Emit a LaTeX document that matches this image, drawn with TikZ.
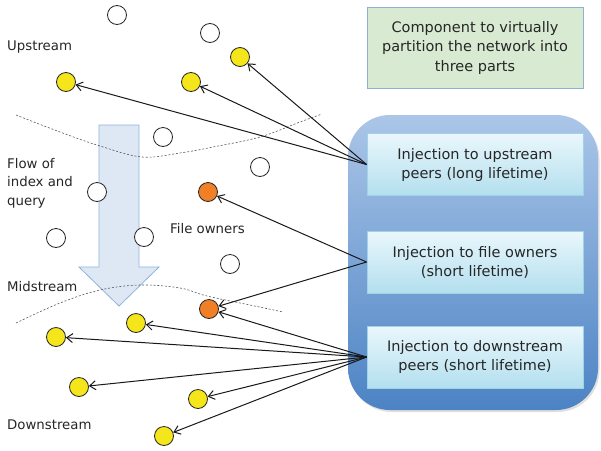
\documentclass[tikz,border=0pt]{standalone}
\usepackage{fontspec}
\setmainfont{DejaVu Sans}
\usetikzlibrary{arrows.meta,shadows}
\definecolor{txt}{HTML}{262626}
\definecolor{grfill}{HTML}{D8EAD2}
\definecolor{grline}{HTML}{8FB0D2}
\definecolor{bigtop}{HTML}{ABC6E8}
\definecolor{bigbot}{HTML}{4C83C4}
\definecolor{boxtop}{HTML}{EAF7FC}
\definecolor{boxbot}{HTML}{B3DFEE}
\definecolor{boxline}{HTML}{9FD3E6}
\definecolor{peeryel}{HTML}{F4E61A}
\definecolor{peerora}{HTML}{F07F26}
\definecolor{arrfill}{HTML}{DEE8F4}
\definecolor{arrline}{HTML}{8DB3DD}
\tikzset{
  peer/.style={circle, draw=black!85, line width=0.8pt, minimum size=19pt, inner sep=0pt},
  wpeer/.style={peer, fill=white},
  ypeer/.style={peer, fill=peeryel},
  opeer/.style={peer, fill=peerora},
  injbox/.style={draw=boxline, line width=0.8pt, top color=boxtop, bottom color=boxbot,
    minimum width=216pt, minimum height=62pt, align=center, text=txt,
    font=\fontsize{14.5}{19}\selectfont},
  lbl/.style={anchor=west, align=left, text=txt, font=\fontsize{13.3}{18.5}\selectfont, inner sep=0pt},
  inj/.style={-{Straight Barb[length=6pt,width=9pt]}, line width=1pt, black!90},
  sep/.style={gray!70!black, line width=0.6pt, dash pattern=on 2pt off 1.8pt}
}
\begin{document}
\begin{tikzpicture}[x=1pt,y=-1pt]
\useasboundingbox (0,0) rectangle (601,450);

% component box
\node[draw=grline, line width=0.9pt, fill=grfill, minimum width=216pt, minimum height=81pt,
  align=center, text=txt, font=\fontsize{14.5}{19.5}\selectfont] (comp) at (475,47.5)
  {Component to virtually\\partition the network into\\three parts};

% big rounded container
\node[rounded corners=42pt, top color=bigtop, bottom color=bigbot, minimum width=250pt,
  minimum height=295pt, drop shadow={opacity=0.25, shadow xshift=1.5pt, shadow yshift=-2pt}] (big) at (473,262.5) {};

% injection boxes
\node[injbox] (b1) at (475,164.5) {Injection to upstream\\peers (long lifetime)};
\node[injbox] (b2) at (475,262) {Injection to file owners\\(short lifetime)};
\node[injbox] (b3) at (475,357) {Injection to downstream\\peers (short lifetime)};

% flow arrow
\draw[fill=arrfill, draw=arrline, line width=0.8pt]
  (99,125) -- (139,125) -- (139,267) -- (159,267) -- (119,306) -- (79,267) -- (99,267) -- cycle;

% dashed separators
\draw[sep] plot[smooth, tension=0.6] coordinates {(16,115) (60,132) (100,146) (142,157) (180,153) (213,147) (260,137) (300,122) (322,114)};
\draw[sep] plot[smooth, tension=0.6] coordinates {(16,323) (60,303) (100,290) (140,285) (180,288) (207,296) (250,305) (283,312)};

% labels
\node[lbl] (up) at (7,47) {Upstream};
\node[lbl] (flow) at (7,183) {Flow of\\index and\\query};
\node[lbl] (mid) at (7,287) {Midstream};
\node[lbl] (down) at (7,425) {Downstream};
\node[lbl] (fo) at (170,229) {File owners};

% peers
\node[wpeer] (w1) at (117,15) {};
\node[wpeer] (w2) at (210,33) {};
\node[wpeer] (w3) at (163,137) {};
\node[wpeer] (w4) at (260,167) {};
\node[wpeer] (w5) at (97,192) {};
\node[wpeer] (w6) at (56,238) {};
\node[wpeer] (w7) at (144,237) {};
\node[wpeer] (w8) at (230,264) {};
\node[ypeer] (y1) at (240,57) {};
\node[ypeer] (y2) at (66,82) {};
\node[ypeer] (y3) at (191,82) {};
\node[opeer] (o1) at (208,192) {};
\node[opeer] (o2) at (209,309) {};
\node[ypeer] (y4) at (136,323) {};
\node[ypeer] (y5) at (56,337) {};
\node[ypeer] (y6) at (79,387) {};
\node[ypeer] (y7) at (198,399) {};
\node[ypeer] (y8) at (164,436) {};

% injections
\draw[inj] (b1.west) -- (y1);
\draw[inj] (b1.west) -- (y2);
\draw[inj] (b1.west) -- (y3);
\draw[inj] (b2.west) -- (o1);
\draw[inj] (b2.west) -- (o2);
\draw[inj] (b3.west) -- (o2);
\draw[inj] (b3.west) -- (y4);
\draw[inj] (b3.west) -- (y5);
\draw[inj] (b3.west) -- (y6);
\draw[inj] (b3.west) -- (y7);
\draw[inj] (b3.west) -- (y8);
\end{tikzpicture}
\end{document}
